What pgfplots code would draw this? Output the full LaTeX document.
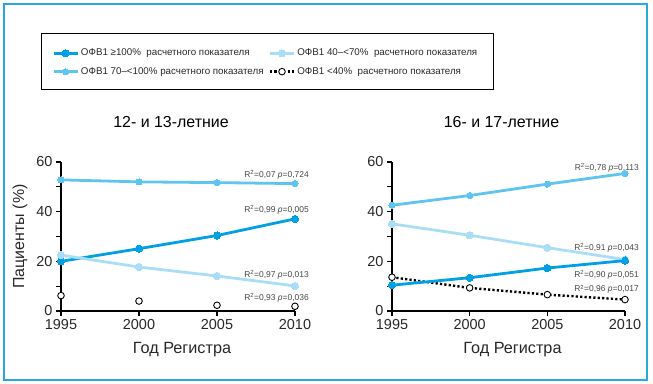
\documentclass[border=0pt]{standalone}
\usepackage{pgfplots}
\pgfplotsset{compat=1.18}
\usepackage{fontspec}
\setmainfont{Liberation Sans}
\definecolor{cDark}{RGB}{0,160,227}
\definecolor{cMed}{RGB}{95,197,240}
\definecolor{cLight}{RGB}{170,222,246}
\definecolor{cFrame}{RGB}{40,170,225}
\definecolor{cTxt}{RGB}{40,40,40}
\definecolor{cAnn}{RGB}{70,70,70}

\tikzset{ann/.style={anchor=east, font=\fontsize{8.5}{10}\selectfont, text=cAnn, inner sep=0pt}}
\pgfplotsset{
 panel/.style={
   scale only axis, height=149bp,
   xmin=1995,xmax=2010,ymin=0,ymax=60,
   axis x line*=bottom, axis y line*=left,
   axis line style={line width=2bp, black},
   xtick={1995,2000,2005,2010}, xticklabels={1995,2000,2005,2010},
   ytick={0,10,...,60}, yticklabels={0,,20,,40,,60},
   tick align=outside, major tick length=5bp,
   tick style={line width=1.2bp, black},
   ticklabel style={font=\fontsize{14.5}{16}\selectfont, text=cTxt},
   xlabel={Год Регистра},
   xlabel style={font=\fontsize{16.3}{18}\selectfont, text=cTxt, at={(axis description cs:0.517,-0.262)}, anchor=center},
   title style={font=\fontsize{16}{18}\selectfont, text=black, at={(axis description cs:0.47,1.228)}, anchor=center},
   clip=false,
 },
 sDark/.style={color=cDark, line width=2.8bp, mark=*, mark size=3.6bp, mark options={fill=cDark, draw=cDark, line width=0pt, solid}},
 sMed/.style={color=cMed, line width=2.8bp, mark=*, mark size=3.1bp, mark options={fill=cMed, draw=cMed, line width=0pt, solid}},
 sLight/.style={color=cLight, line width=2.8bp, mark=*, mark size=3.6bp, mark options={fill=cLight, draw=cLight, line width=0pt, solid}},
 sLow/.style={color=black, line width=2.4bp, dash pattern=on 2.2bp off 2.2bp, mark=*, mark size=3.3bp, mark options={fill=white, draw=black, line width=0.9bp, solid}},
}

\begin{document}
\begin{tikzpicture}
\useasboundingbox (0,0) rectangle (653bp,384bp);
\draw[cFrame, line width=1.5bp] (4bp,4bp) rectangle (647bp,380bp);
\draw[black, line width=0.8bp] (41bp,295bp) rectangle (493bp,351bp);

\begin{axis}[panel, at={(61bp,73bp)}, anchor=south west, width=234bp,
  title={12- и 13-летние},
  ylabel={Пациенты (\%)},
  ylabel style={font=\fontsize{16}{18}\selectfont, text=cTxt, at={(axis description cs:-0.175,0.5)}, anchor=center},
  legend columns=2,
  legend cell align=left,
  legend image code/.code={\draw[mark repeat=2,mark phase=2,#1] plot coordinates {(0bp,0bp) (12bp,0bp) (24bp,0bp)};},
  legend style={draw=none, fill=none, inner sep=0pt, row sep=6bp,
     at={(axis description cs:-0.0385,1.772)}, anchor=north west,
     font=\fontsize{9.8}{12}\selectfont, text=cTxt,
     /tikz/column 2/.style={column sep=3bp}},
]
\addplot[sMed, forget plot] coordinates {(1995,52.8) (2000,52.0) (2005,51.7) (2010,51.3)};
\addplot[sDark, forget plot] coordinates {(1995,20.0) (2000,25.1) (2005,30.4) (2010,37.1)};
\addplot[sLight, forget plot] coordinates {(1995,22.5) (2000,17.7) (2005,14.1) (2010,10.1)};
\addplot[sLow, only marks, forget plot] coordinates {(1995,6.2) (2000,4.0) (2005,2.3) (2010,1.9)};
\addlegendimage{sDark}
\addlegendentry{ОФВ1 ≥100\%~ расчетного показателя}
\addlegendimage{sLight}
\addlegendentry{ОФВ1 40–<70\%~ расчетного показателя}
\addlegendimage{sMed}
\addlegendentry{ОФВ1 70–<100\% расчетного показателя}
\addlegendimage{sLow}
\addlegendentry{ОФВ1 <40\%~ расчетного показателя}
\node[ann] at (axis cs:2010.9,54.9) {R\textsuperscript{2}=0,07 \textit{p}=0,724};
\node[ann] at (axis cs:2010.9,40.7) {R\textsuperscript{2}=0,99 \textit{p}=0,005};
\node[ann] at (axis cs:2010.9,14.6) {R\textsuperscript{2}=0,97 \textit{p}=0,013};
\node[ann] at (axis cs:2010.9,5.4) {R\textsuperscript{2}=0,93 \textit{p}=0,036};
\end{axis}

\begin{axis}[panel, at={(392bp,73bp)}, anchor=south west, width=233bp,
  title={16- и 17-летние},
]
\addplot[sMed] coordinates {(1995,42.6) (2000,46.5) (2005,51.1) (2010,55.4)};
\addplot[sLight] coordinates {(1995,35.1) (2000,30.5) (2005,25.5) (2010,20.7)};
\addplot[sLow] coordinates {(1995,13.6) (2000,9.3) (2005,6.6) (2010,4.6)};
\addplot[sDark] coordinates {(1995,10.4) (2000,13.4) (2005,17.3) (2010,20.3)};
\node[ann] at (axis cs:2010.9,57.5) {R\textsuperscript{2}=0,78 \textit{p}=0,113};
\node[ann] at (axis cs:2010.9,25.5) {R\textsuperscript{2}=0,91 \textit{p}=0,043};
\node[ann] at (axis cs:2010.9,14.5) {R\textsuperscript{2}=0,90 \textit{p}=0,051};
\node[ann] at (axis cs:2010.9,8.7) {R\textsuperscript{2}=0,96 \textit{p}=0,017};
\end{axis}
\end{tikzpicture}
\end{document}
